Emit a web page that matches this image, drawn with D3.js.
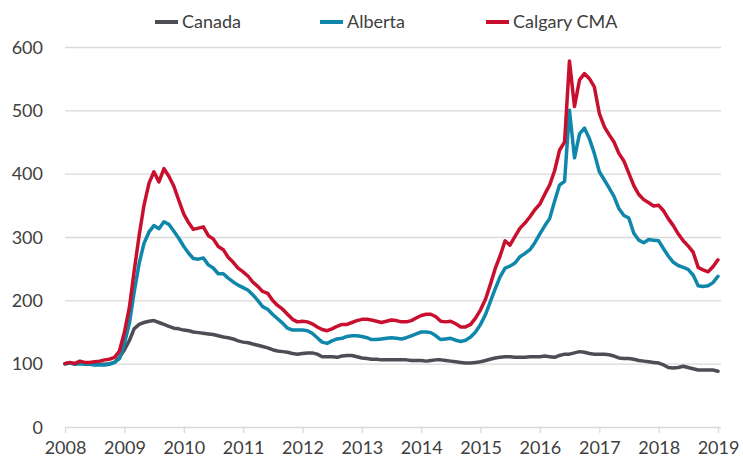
<!DOCTYPE html>
<html>
<head>
<meta charset="utf-8">
<script src="https://cdn.jsdelivr.net/npm/d3@7"></script>
<style>
  body { margin: 0; background: #fff; }
  svg text { font-family: Lato, "Open Sans", sans-serif; fill: #404040; }
</style>
</head>
<body>
<svg id="chart"></svg>
<script>
// index values, monthly Jan 2008 .. Jan 2019
var yearTicks = [2008, 2009, 2010, 2011, 2012, 2013, 2014, 2015, 2016, 2017, 2018, 2019];
var yTicks = [0, 100, 200, 300, 400, 500, 600];
var seriesNames = ["Canada", "Alberta", "Calgary CMA"];

var canada = [
  100, 101, 100, 101, 100, 100, 99, 99, 99, 100, 102, 110,
  122, 137, 155, 162, 165, 167, 168, 165, 162, 159, 156, 155,
  153, 152, 150, 149, 148, 147, 146, 144, 142, 141, 139, 136,
  134, 133, 131, 129, 127, 125, 122, 120, 119, 118, 116, 115,
  116, 117, 117, 115, 111, 111, 111, 110, 112, 113, 113, 111,
  109, 108, 107, 107, 106, 106, 106, 106, 106, 106, 105, 105,
  105, 104, 105, 106, 106, 105, 104, 103, 102, 101, 101, 102,
  103, 105, 107, 109, 110, 111, 111, 110, 110, 110, 111, 111,
  111, 112, 111, 110, 113, 115, 115, 117, 119, 118, 116, 115,
  115, 115, 114, 112, 109, 108, 108, 107, 105, 104, 103, 102,
  101, 98, 94, 93, 94, 96, 94, 92, 90, 90, 90, 90, 88
];

var alberta = [
  100, 101, 99, 100, 99, 99, 98, 98, 98, 99, 102, 108,
  132, 165, 212, 258, 290, 308, 318, 313, 324, 320, 309, 298,
  285, 274, 266, 265, 267, 256, 251, 242, 242, 235, 229, 224,
  220, 216, 209, 200, 190, 186, 178, 171, 164, 156, 153, 153,
  153, 152, 148, 141, 134, 132, 136, 139, 140, 143, 144, 144,
  143, 141, 138, 138, 139, 140, 141, 140, 139, 141, 144, 147,
  150, 150, 149, 144, 138, 139, 140, 137, 135, 137, 142, 150,
  162, 178, 197, 218, 237, 251, 254, 259, 269, 274, 280, 291,
  305, 318, 329, 357, 382, 388, 500, 425, 463, 472, 455, 432,
  403, 390, 378, 364, 345, 334, 330, 306, 295, 291, 296, 295,
  294, 281, 270, 260, 255, 252, 249, 240, 223, 222, 223, 228, 238
];

var calgary = [
  100, 102, 100, 104, 102, 102, 103, 104, 106, 107, 110, 120,
  150, 190, 245, 302, 350, 385, 403, 387, 408, 396, 380, 358,
  336, 322, 312, 314, 316, 302, 297, 285, 280, 268, 260, 251,
  245, 238, 229, 222, 214, 211, 200, 192, 186, 178, 170, 166,
  167, 166, 163, 158, 154, 152, 155, 159, 162, 162, 165, 168,
  170, 170, 169, 167, 165, 167, 169, 168, 166, 166, 168, 172,
  176, 178, 178, 174, 167, 166, 167, 163, 158, 158, 162, 172,
  185, 202, 224, 250, 270, 294, 287, 301, 314, 322, 332, 343,
  352, 368, 382, 405, 437, 450, 578, 506, 548, 558, 550, 537,
  495, 474, 462, 450, 432, 420, 401, 381, 367, 359, 354, 349,
  350, 341, 329, 318, 305, 294, 286, 276, 252, 248, 245, 253, 264
];

var W = 743, H = 462;
var margin = {top: 47, right: 25, bottom: 35, left: 65};
var colors = ["#4d4e55", "#0e87ab", "#c8102e"];

var svg = d3.select("#chart").attr("width", W).attr("height", H);

var months = canada.map((d, i) => new Date(2008, i, 1));

var x = d3.scaleTime()
  .domain([new Date(2008, 0, 1), new Date(2019, 0, 1)])
  .range([margin.left, 718]);

var y = d3.scaleLinear()
  .domain([0, 600])
  .range([H - margin.bottom, margin.top]);

// gridlines + y labels
svg.append("g")
  .attr("transform", `translate(${margin.left},0)`)
  .call(d3.axisLeft(y).tickValues(yTicks).tickSize(-(W - margin.right - margin.left + 3)).tickPadding(22))
  .call(g => g.select(".domain").remove())
  .call(g => g.selectAll(".tick line").attr("stroke", "#d9d9d9").attr("stroke-width", 1.3))
  .call(g => g.selectAll(".tick text").style("font-size", "18px").attr("dy", "0.35em"));

// x axis ticks + labels
svg.append("g")
  .attr("transform", `translate(0,${y(0)})`)
  .call(d3.axisBottom(x).tickValues(yearTicks.map(d => new Date(d, 0, 1))).tickFormat(d3.timeFormat("%Y")).tickSize(6).tickPadding(8))
  .call(g => g.select(".domain").remove())
  .call(g => g.selectAll(".tick line").attr("stroke", "#d9d9d9").attr("stroke-width", 1.3))
  .call(g => g.selectAll(".tick text").style("font-size", "18px"));

var line = d3.line()
  .x((d, i) => x(months[i]))
  .y(d => y(d));

[canada, alberta, calgary].forEach((s, k) => {
  svg.append("path")
    .datum(s)
    .attr("fill", "none")
    .attr("stroke", colors[k])
    .attr("stroke-width", 3.5)
    .attr("stroke-linejoin", "round")
    .attr("stroke-linecap", "round")
    .attr("d", line);
});

// legend
var legendX = [155, 320, 486];
var legend = svg.selectAll(".legend")
  .data(seriesNames)
  .enter()
  .append("g")
  .attr("transform", (d, i) => `translate(${legendX[i]},22)`);

legend.append("line")
  .attr("x1", 0).attr("x2", 23)
  .attr("stroke", (d, i) => colors[i])
  .attr("stroke-width", 4);

legend.append("text")
  .attr("x", 27)
  .attr("dy", "0.35em")
  .style("font-size", "18px")
  .text(d => d);
</script>
</body>
</html>
